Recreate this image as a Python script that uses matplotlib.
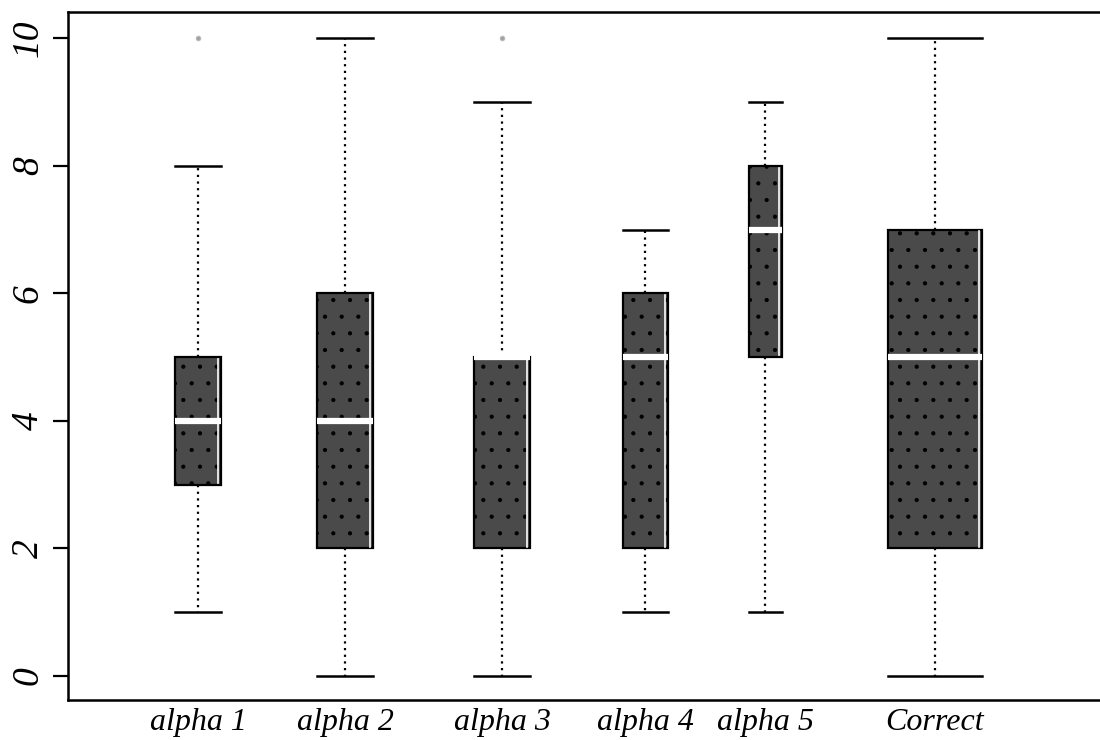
import matplotlib
matplotlib.use("Agg")
import matplotlib.pyplot as plt

# five-number summaries for each method
labels = ["alpha 1", "alpha 2", "alpha 3", "alpha 4", "alpha 5", "Correct"]
whislo = [1, 0, 0, 1, 1, 0]
q1 = [3, 2, 2, 2, 5, 2]
med = [4, 4, 5, 5, 7, 5]
q3 = [5, 6, 5, 6, 8, 7]
whishi = [8, 10, 9, 7, 9, 10]
fliers = [[10], [], [10], [], [], []]
yticks = [0, 2, 4, 6, 8, 10]

# layout: box centres and widths (variable-width boxes)
pos = [198, 345, 502, 645, 765, 935]
wid = [46, 56, 56, 45, 33, 94]

plt.rcParams['font.family'] = ['Liberation Serif', 'DejaVu Serif']
plt.rcParams['hatch.linewidth'] = 0.6

fig = plt.figure(figsize=(11, 7.4), dpi=100)
ax = fig.add_axes([68 / 1100, 1 - 700 / 740, 1 - 68 / 1100, (700 - 12) / 740])

stats = []
for i in range(len(labels)):
    stats.append(dict(label=labels[i], whislo=whislo[i], q1=q1[i], med=med[i],
                      q3=q3[i], whishi=whishi[i], fliers=fliers[i]))

bp = ax.bxp(stats, positions=pos, widths=wid, capwidths=wid, patch_artist=True,
            manage_ticks=False,
            boxprops=dict(facecolor='#4a4a4a', edgecolor='black', linewidth=1.6, hatch='.'),
            medianprops=dict(color='white', linewidth=4.5, solid_capstyle='butt', zorder=3),
            whiskerprops=dict(color='black', linewidth=1.6, linestyle=(0, (1, 2))),
            capprops=dict(color='black', linewidth=1.8),
            flierprops=dict(marker='o', markersize=3, markerfacecolor='#999999',
                            markeredgecolor='#bbbbbb'))

# thin light line inside the right edge of each box
for p, w, a, b in zip(pos, wid, q1, q3):
    ax.plot([p + w / 2 - 3, p + w / 2 - 3], [a + 0.03, b - 0.03], color='white', lw=1.2)

ax.set_xlim(68, 1100)
ax.set_ylim(-0.376, 10.41)
ax.set_xticks(pos)
ax.set_xticklabels(labels, fontsize=23, style='italic')
ax.set_yticks(yticks)
ax.set_yticklabels([str(v) for v in yticks], fontsize=27, style='italic',
                   rotation=90, va='center')
ax.tick_params(axis='x', length=0, pad=6)
ax.tick_params(axis='y', length=11, width=1.6, pad=5)
for s in ['left', 'top', 'bottom']:
    ax.spines[s].set_linewidth(1.8)
ax.spines['right'].set_visible(False)

fig.savefig('out.png', dpi=100)
